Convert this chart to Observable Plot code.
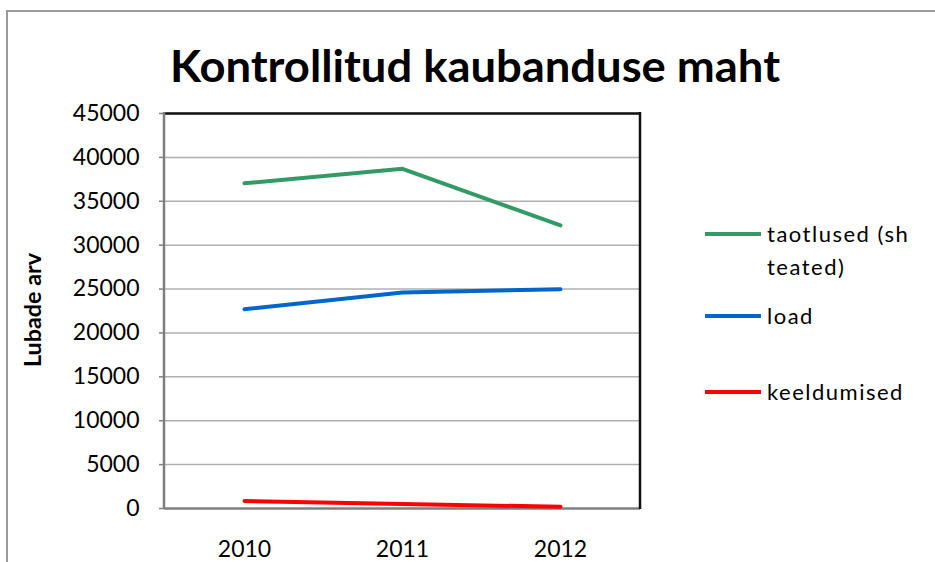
<!DOCTYPE html>
<html>
<head>
<meta charset="utf-8">
<script src="https://cdn.jsdelivr.net/npm/d3@7"></script>
<script src="https://cdn.jsdelivr.net/npm/@observablehq/plot@0.6"></script>
<style>
  html, body { margin: 0; padding: 0; background: #fff; }
  #chart { width: 935px; height: 562px; overflow: hidden; }
</style>
</head>
<body>
<div id="chart"></div>
<script>
const years = ["2010", "2011", "2012"];
const seriesNames = ["taotlused (sh teated)", "load", "keeldumised"];
const taotlused = [37050, 38700, 32250];
const load = [22700, 24600, 24980];
const keeldumised = [850, 500, 200];
const seriesColors = ["#339966", "#0066CC", "#FF0000"];
const yTicks = [0, 5000, 10000, 15000, 20000, 25000, 30000, 35000, 40000, 45000];
const title = "Kontrollitud kaubanduse maht";
const yLabel = "Lubade arv";

const allValues = [taotlused, load, keeldumised];
const rows = [];
seriesNames.forEach((s, i) => years.forEach((y, j) => rows.push({series: s, year: y, value: allValues[i][j]})));

const font = "Lato, 'Open Sans', sans-serif";

const plot = Plot.plot({
  width: 935,
  height: 562,
  marginLeft: 164,
  marginRight: 295,
  marginTop: 113,
  marginBottom: 54,
  style: {fontFamily: font, fontSize: "23px", color: "#000", background: "#fff"},
  x: {type: "point", domain: years, padding: 0.5, label: null},
  y: {domain: [0, 45000], ticks: yTicks, label: null, tickFormat: d => String(d)},
  color: {domain: seriesNames, range: seriesColors},
  marks: [
    Plot.gridY(yTicks.filter(d => d > 0), {stroke: "#b0b0b0", strokeOpacity: 1, strokeWidth: 1.5}),
    Plot.axisY(yTicks, {tickSize: 5, tickPadding: 20, stroke: "#808080", strokeWidth: 1.5, fontSize: 23, tickFormat: d => String(d), label: null}),
    Plot.axisX({tickSize: 0, tickPadding: 32, fontSize: 23, label: null}),
    Plot.ruleY([0], {stroke: "#7f7f7f", strokeWidth: 2.5}),
    Plot.ruleY([45000], {stroke: "#111", strokeWidth: 2.5}),
    Plot.line(rows, {x: "year", y: "value", z: "series", stroke: "series", strokeWidth: 4, strokeLinecap: "round"})
  ]
});

document.getElementById("chart").appendChild(plot);

const svg = d3.select(plot);
// left and right frame edges
svg.append("line").attr("x1", 164).attr("x2", 164).attr("y1", 112).attr("y2", 509)
  .attr("stroke", "#7f7f7f").attr("stroke-width", 2.5);
svg.append("line").attr("x1", 640).attr("x2", 640).attr("y1", 112).attr("y2", 509)
  .attr("stroke", "#111").attr("stroke-width", 2.5);
// outer chart border
svg.append("rect").attr("x", 7).attr("y", 11).attr("width", 1000).attr("height", 600)
  .attr("fill", "none").attr("stroke", "#9a9a9a").attr("stroke-width", 2);

// title
svg.append("text").attr("x", 475).attr("y", 82).attr("text-anchor", "middle")
  .attr("font-family", font).attr("font-weight", "bold").attr("font-size", 44)
  .attr("textLength", 610).attr("lengthAdjust", "spacingAndGlyphs")
  .text(title);

// y label
svg.append("text").attr("transform", "translate(41,310) rotate(-90)").attr("text-anchor", "middle")
  .attr("font-family", font).attr("font-weight", "bold").attr("font-size", 23)
  .attr("textLength", 114).attr("lengthAdjust", "spacingAndGlyphs")
  .text(yLabel);

// legend
const legendY = [234, 316, 392];
const legendLines = [["taotlused (sh", "teated)"], ["load"], ["keeldumised"]];
legendY.forEach((ly, i) => {
  svg.append("line").attr("x1", 705).attr("x2", 761).attr("y1", ly).attr("y2", ly)
    .attr("stroke", seriesColors[i]).attr("stroke-width", 4);
  legendLines[i].forEach((t, k) => {
    svg.append("text").attr("x", 767).attr("y", ly + 8 + k * 33)
      .attr("text-anchor", "start")
      .attr("font-family", font).attr("font-size", 22).attr("letter-spacing", 1.5)
      .text(t);
  });
});
</script>
</body>
</html>
